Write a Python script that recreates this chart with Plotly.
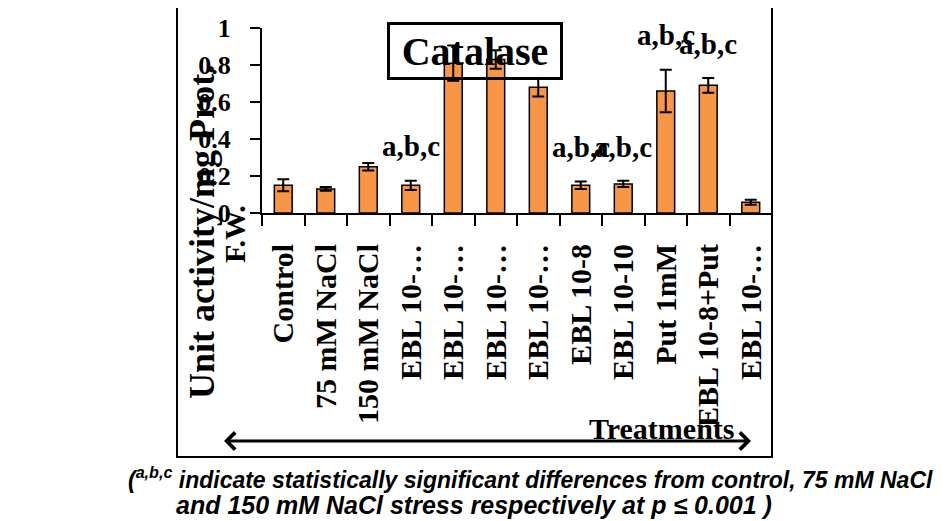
import plotly.graph_objects as go

# ---- data ----
treatments = ["Control", "75 mM NaCl", "150 mM NaCl", "EBL 10-…", "EBL 10-…", "EBL 10-…",
              "EBL 10-…", "EBL 10-8", "EBL 10-10", "Put 1mM", "EBL 10-8+Put", "EBL 10-…"]
catalase = [0.15, 0.13, 0.25, 0.15, 0.81, 0.83, 0.68, 0.15, 0.157, 0.66, 0.69, 0.058]
errors = [0.032, 0.01, 0.02, 0.025, 0.095, 0.05, 0.05, 0.02, 0.017, 0.115, 0.04, 0.013]
sig_labels = ["", "", "", "a,b,c", "", "", "", "a,b,c", "a,b,c", "a,b,c", "a,b,c", ""]
y_ticks = [0, 0.2, 0.4, 0.6, 0.8, 1]
y_ticktext = ["0", "0.2", "0.4", "0.6", "0.8", "1"]

# page body has an 8px default margin -> compensate
OFF = 8
W, H = 943 - OFF, 521 - OFF
L, R, T, B = 262, 772, 28, 213  # plot area in page px


def px(x):
    return (x - L) / (R - L)


def py(y):
    return (B - y) / (B - T)


SERIF = "Liberation Serif"
idx = list(range(len(treatments)))

fig = go.Figure()
fig.add_trace(go.Bar(
    x=idx, y=catalase, width=0.42,
    marker=dict(color="#F79646", line=dict(color="black", width=1.5)),
    error_y=dict(type="data", array=errors, color="black", thickness=2, width=6),
    showlegend=False,
))

annotations = []
for i, lab in enumerate(sig_labels):
    if lab:
        annotations.append(dict(
            x=i, y=catalase[i] + errors[i] + 0.185, xref="x", yref="y",
            text=lab, showarrow=False, xanchor="center", yanchor="middle",
            font=dict(family=SERIF, size=29, color="black", weight="bold")))

# title box
annotations.append(dict(
    x=px(475), y=py(51), xref="paper", yref="paper", text="Catalase", showarrow=False,
    xanchor="center", yanchor="middle", width=170, height=52, borderpad=0,
    bordercolor="black", borderwidth=3,
    font=dict(family=SERIF, size=40, color="black", weight="bold")))

# y-axis title (two lines)
annotations.append(dict(
    x=px(202), y=py(232), xref="paper", yref="paper", text="Unit activity/mg Prot.",
    showarrow=False, textangle=-90, xanchor="center", yanchor="middle",
    font=dict(family=SERIF, size=36, color="black", weight="bold")))
annotations.append(dict(
    x=px(234), y=py(234), xref="paper", yref="paper", text="F.W.",
    showarrow=False, textangle=-90, xanchor="center", yanchor="middle",
    font=dict(family=SERIF, size=30, color="black", weight="bold")))

# double-headed arrow
annotations.append(dict(
    x=px(751), y=py(441), xref="paper", yref="paper", text=" ",
    showarrow=True, axref="pixel", ayref="pixel", ax=-(751 - 221), ay=0,
    arrowhead=4, startarrowhead=4, arrowside="end+start", arrowsize=1.1,
    startarrowsize=1.1, arrowwidth=3, arrowcolor="black"))

annotations.append(dict(
    x=px(662), y=py(428), xref="paper", yref="paper", text="Treatments",
    showarrow=False, xanchor="center", yanchor="middle",
    font=dict(family=SERIF, size=30, color="black", weight="bold")))

# caption
annotations.append(dict(
    x=px(530), y=py(478), xref="paper", yref="paper",
    text="(<sup>a,b,c</sup> indicate statistically significant differences from control, 75 mM NaCl",
    showarrow=False, xanchor="center", yanchor="middle",
    font=dict(family="Liberation Sans", size=23, color="black", weight="bold", style="italic")))
annotations.append(dict(
    x=px(474), y=py(505), xref="paper", yref="paper",
    text="and 150 mM NaCl stress respectively at p ≤ 0.001 )",
    showarrow=False, xanchor="center", yanchor="middle",
    font=dict(family="Liberation Sans", size=25, color="black", weight="bold", style="italic")))

shapes = [dict(type="rect", xref="paper", yref="paper",
               x0=px(177), x1=px(772), y0=py(457), y1=py(7),
               line=dict(color="black", width=2), fillcolor="rgba(0,0,0,0)")]

fig.update_layout(
    width=W, height=H,
    margin=dict(l=L - OFF, r=W - (R - OFF), t=T - OFF, b=H - (B - OFF), pad=0, autoexpand=False),
    paper_bgcolor="white", plot_bgcolor="white",
    annotations=annotations, shapes=shapes,
    xaxis=dict(
        automargin=False,
        range=[-0.5, len(treatments) - 0.5],
        tickmode="array", tickvals=idx, ticktext=treatments,
        tickangle=-90, ticks="outside", ticklen=11, tickwidth=0, tickcolor="rgba(0,0,0,0)",
        ticklabelstandoff=6,
        minor=dict(tickmode="array", tickvals=[i - 0.5 for i in range(len(treatments) + 1)],
                   ticks="outside", ticklen=11, tickwidth=2, tickcolor="black"),
        showline=True, linecolor="black", linewidth=2,
        showgrid=False, zeroline=False,
        tickfont=dict(family=SERIF, size=30, color="black", weight="bold"),
    ),
    yaxis=dict(
        automargin=False,
        range=[0, 1], tickmode="array", tickvals=y_ticks, ticktext=y_ticktext,
        ticks="outside", ticklen=10, tickwidth=2, tickcolor="black",
        ticklabelstandoff=14,
        showline=True, linecolor="black", linewidth=2,
        showgrid=False, zeroline=False,
        tickfont=dict(family=SERIF, size=26, color="black", weight="bold"),
    ),
)

fig.write_html("out.html")
